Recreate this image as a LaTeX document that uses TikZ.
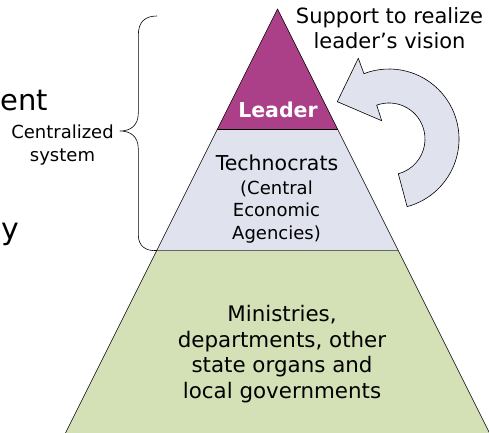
\documentclass[tikz,border=0pt]{standalone}
\usepackage{fontspec}
\setmainfont{DejaVu Sans}
\definecolor{leaderc}{HTML}{AB3F88}
\definecolor{techc}{HTML}{E0E2EE}
\definecolor{greenc}{HTML}{D4E1B7}
\definecolor{arrowc}{HTML}{E0E2EE}
\begin{document}
\begin{tikzpicture}[x=1pt,y=1pt,line join=round,
  txt/.style={inner sep=0pt,align=center,text=black},
  edge/.style={draw=black,line width=0.6pt}]
\useasboundingbox (0,0) rectangle (489,432);
\clip (0,0) rectangle (489,432);
% pyramid corners
\coordinate (apex) at (277.5,423);
\coordinate (l1) at (217.25,302.5); \coordinate (r1) at (337.75,302.5);
\coordinate (l2) at (156.75,181.5); \coordinate (r2) at (398.25,181.5);
\coordinate (l3) at (56,-20);       \coordinate (r3) at (499,-20);
\fill[leaderc] (apex) -- (r1) -- (l1) -- cycle;
\fill[techc] (l1) -- (r1) -- (r2) -- (l2) -- cycle;
\fill[greenc] (l2) -- (r2) -- (r3) -- (l3) -- cycle;
\draw[edge] (l3) -- (apex) -- (r3);
\draw[edge] (l1) -- (r1);
\draw[draw=black!60,line width=1.3pt] (l2) -- (r2);
% curved arrow
\coordinate (ac) at (389,293);
\draw[edge,fill=arrowc] ([shift={(-75:70)}]ac) arc[start angle=-75,end angle=111,radius=70]
  -- (358.3,373.7) -- (337.3,330.3) -- (381.7,311.3)
  -- ([shift={(110:36)}]ac) arc[start angle=110,end angle=-75,radius=36] -- cycle;
% brace
\coordinate (btop) at (157,416);
\coordinate (btip) at (120,301);
\draw[edge] (btop) .. controls (145,416) and (138.3,410) .. (138.3,397) -- (138.3,319)
  .. controls (138.3,306) and (130,301) .. (btip)
  .. controls (130,301) and (138.3,296) .. (138.3,283) -- (138.3,197)
  .. controls (138.3,186) and (146,180.5) .. (l2);
% texts
\node[txt,anchor=base west,font=\fontsize{29}{35}\selectfont] (ent) at (0,322) {ent};
\node[txt,anchor=base east,font=\fontsize{30}{36}\selectfont] (yy) at (19.5,192.5) {y};
\node[txt,anchor=north,font=\fontsize{18}{23}\selectfont] (cs) at (62.5,307.7) {Centralized\\system};
\node[txt,anchor=north,font=\fontsize{21}{25}\selectfont] (sup) at (389.5,424.7) {Support to realize\\leader’s vision};
\node[txt,anchor=base,text=white,font=\fontsize{20.5}{24}\selectfont\bfseries] (lead) at (278,314.3) {Leader};
\node[txt,anchor=base,font=\fontsize{20.5}{24}\selectfont] (tech) at (277,261.3) {Technocrats};
\node[txt,anchor=north,font=\fontsize{18}{22.5}\selectfont] (cea) at (276.5,251.7) {(Central\\Economic\\Agencies)};
\node[txt,anchor=north,font=\fontsize{21.4}{25.5}\selectfont] (min) at (282,126.6) {Ministries,\\departments, other\\state organs and\\local governments};
\end{tikzpicture}
\end{document}
